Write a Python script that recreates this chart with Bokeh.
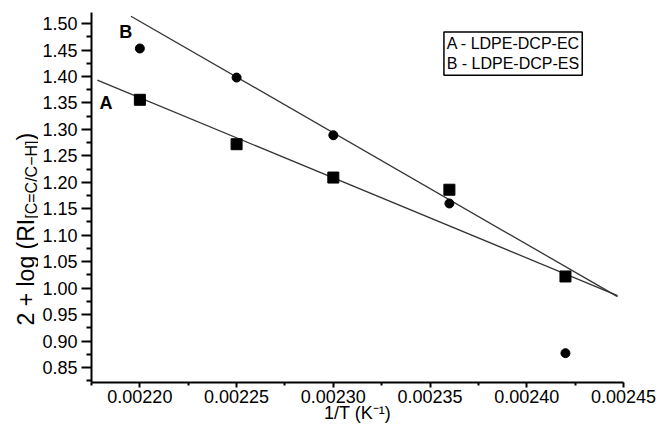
import math
from bokeh.plotting import figure
from bokeh.layouts import row
from bokeh.models import Range1d, FixedTicker, PrintfTickFormatter, Label, BoxAnnotation
from bokeh.embed import file_html
from bokeh.resources import INLINE

# ---- data ----
x_vals = [0.00220, 0.00225, 0.00230, 0.00236, 0.00242]
A_vals = [1.356, 1.272, 1.209, 1.186, 1.022]   # LDPE-DCP-EC (squares)
B_vals = [1.453, 1.398, 1.289, 1.160, 0.877]   # LDPE-DCP-ES (circles)

fitA_x = [0.002178, 0.0024469]
fitA_y = [1.393, 0.986]
fitB_x = [0.0021954, 0.0024469]
fitB_y = [1.514, 0.984]

x_ticks = [0.00220, 0.00225, 0.00230, 0.00235, 0.00240, 0.00245]
x_minor = [0.002175, 0.002225, 0.002275, 0.002325, 0.002375, 0.002425]
y_ticks = [0.85, 0.90, 0.95, 1.00, 1.05, 1.10, 1.15, 1.20, 1.25, 1.30, 1.35, 1.40, 1.45, 1.50]
y_minor = [0.825, 0.875, 0.925, 0.975, 1.025, 1.075, 1.125, 1.175, 1.225, 1.275,
           1.325, 1.375, 1.425, 1.475]

legend_lines = ["A - LDPE-DCP-EC", "B - LDPE-DCP-ES"]
x_title = "1/T (K\u207b\u00b9)"
y_title_main = "2 + log (RI"
y_title_sub = "[C=C/C\u2212H]"
y_title_end = ")"
FONT = "Liberation Sans"

W, H = 665, 426
FL, FR, FT, FB = 91, 623, 12, 382   # frame in window pixels
YW = 38                              # width of the strip holding the y title

def dx(px):
    return 0.00220 + (px - 139) / 96.8 * 0.00005

def dy(py):
    return 1.50 - (py - 23.3) / 528.8

# ---------- strip with the rotated y-axis title ----------
ty = figure(width=YW, height=H, output_backend="svg", toolbar_location=None,
            x_axis_type=None, y_axis_type=None,
            x_range=Range1d(0, YW), y_range=Range1d(H - FB, H - FT),
            min_border=0, min_border_left=0, min_border_right=0,
            min_border_top=FT, min_border_bottom=H - FB)
ty.outline_line_color = None
ty.background_fill_color = "white"
ty.border_fill_color = "white"

MAIN_FS, SUB_FS = 23, 16
main_px = 4.641 * MAIN_FS
sub_px = 4.89 * SUB_FS
y0 = 325
ty.add_layout(Label(x=25, y=H - y0, text=y_title_main, text_font=FONT,
                    text_font_size=f"{MAIN_FS}px", text_color="black", angle=math.pi / 2,
                    text_align="left", text_baseline="middle"))
ty.add_layout(Label(x=30.5, y=H - (y0 - main_px), text=y_title_sub, text_font=FONT,
                    text_font_size=f"{SUB_FS}px", text_color="black", angle=math.pi / 2,
                    text_align="left", text_baseline="middle"))
ty.add_layout(Label(x=25, y=H - (y0 - main_px - sub_px), text=y_title_end, text_font=FONT,
                    text_font_size=f"{MAIN_FS}px", text_color="black", angle=math.pi / 2,
                    text_align="left", text_baseline="middle"))

# ---------- main plot ----------
p = figure(width=W - YW, height=H, output_backend="svg", toolbar_location=None,
           x_range=Range1d(0.002175, 0.00245), y_range=Range1d(0.8216, 1.521),
           min_border_left=FL - YW, min_border_right=W - FR, min_border_top=FT,
           min_border_bottom=H - FB)
p.outline_line_color = None
p.grid.visible = False
p.background_fill_color = "white"

for ax in (p.xaxis[0], p.yaxis[0]):
    ax.axis_line_width = 2
    ax.axis_line_color = "black"
    ax.major_tick_line_width = 2
    ax.minor_tick_line_width = 2
    ax.major_tick_in = 0
    ax.minor_tick_in = 0
    ax.major_label_text_font = FONT
    ax.major_label_text_font_size = "18px"
    ax.major_label_text_color = "black"

p.xaxis.ticker = FixedTicker(ticks=x_ticks, minor_ticks=x_minor)
p.xaxis.formatter = PrintfTickFormatter(format="%.5f")
p.xaxis.major_tick_out = 5
p.xaxis.minor_tick_out = 3
p.xaxis.major_label_standoff = 2
p.xaxis.axis_label = x_title
p.xaxis.axis_label_text_font = FONT
p.xaxis.axis_label_text_font_size = "18px"
p.xaxis.axis_label_text_font_style = "normal"
p.xaxis.axis_label_text_color = "black"
p.xaxis.axis_label_standoff = -3

p.yaxis.ticker = FixedTicker(ticks=y_ticks, minor_ticks=y_minor)
p.yaxis.formatter = PrintfTickFormatter(format="%.2f")
p.yaxis.major_tick_out = 10
p.yaxis.minor_tick_out = 5
p.yaxis.major_label_standoff = 4

# fit lines
p.line(fitA_x, fitA_y, line_color="#333333", line_width=1.3)
p.line(fitB_x, fitB_y, line_color="#333333", line_width=1.3)

# points
p.scatter(x_vals, A_vals, marker="square", size=11, color="black")
p.scatter(x_vals, B_vals, marker="circle", size=9, color="black")

# series letters
p.add_layout(Label(x=dx(125), y=dy(31.7), text="B", text_font=FONT, text_font_style="bold",
                   text_color="black", text_font_size="18px", text_align="center",
                   text_baseline="middle"))
p.add_layout(Label(x=dx(105), y=dy(103), text="A", text_font=FONT, text_font_style="bold",
                   text_color="black", text_font_size="18px", text_align="center",
                   text_baseline="middle"))

# legend box
p.add_layout(BoxAnnotation(left=dx(443.3), right=dx(581.7), top=dy(31.7), bottom=dy(75),
                           fill_color="white", fill_alpha=1, line_color="black",
                           line_alpha=1, line_width=1.5))
for txt, py in zip(legend_lines, [42.7, 62.7]):
    p.add_layout(Label(x=dx(446), y=dy(py), text=txt, text_font=FONT, text_font_size="16px",
                       text_color="black", text_align="left", text_baseline="middle"))

layout = row(ty, p, spacing=0)
open("out.html", "w").write(file_html(layout, INLINE))
